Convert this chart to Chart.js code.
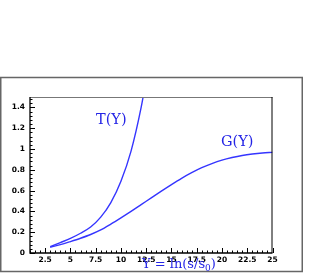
<!DOCTYPE html>
<html>
<head>
<meta charset="utf-8">
<script src="https://cdn.jsdelivr.net/npm/chart.js@4/dist/chart.umd.min.js"></script>
<style>
html, body { margin: 0; padding: 0; background: #fff; overflow: hidden; }
canvas { display: block; }
</style>
</head>
<body>
<canvas id="grafico" width="327" height="273"></canvas>
<script>
// Valores
const yT = [3, 4, 5, 6, 7, 8, 9, 10, 11, 12, 12.5];
const valoresT = [0.06, 0.10, 0.14, 0.19, 0.25, 0.345, 0.485, 0.69, 0.98, 1.40, 1.67];

const yG = [3, 4, 5, 6, 7, 8, 9, 10, 11, 12, 13, 14, 15, 16, 17, 18, 19, 20, 21, 22, 23, 24, 25];
const valoresG = [0.055, 0.08, 0.11, 0.142, 0.178, 0.222, 0.278, 0.338, 0.40, 0.465, 0.53, 0.595, 0.658, 0.718, 0.772, 0.82, 0.86, 0.893, 0.918, 0.938, 0.952, 0.962, 0.968];

const xTicks = [2.5, 5, 7.5, 10, 12.5, 15, 17.5, 20, 22.5, 25];
const xTickLabels = ['2.5', '5', '7.5', '10', '12.5', '15', '17.5', '20', '22.5', '25'];
const yTicks = [0, 0.2, 0.4, 0.6, 0.8, 1, 1.2, 1.4];
const yTickLabels = ['0', '0.2', '0.4', '0.6', '0.8', '1', '1.2', '1.4'];

const corCurva = '#3535ff';
const corTexto = '#2424e6';

function pontos(xs, ys) {
    return xs.map((x, i) => ({ x: x, y: ys[i] }));
}

// Eixos estilo ROOT: marcas para dentro, moldura externa
const eixosRoot = {
    id: 'eixosRoot',
    beforeDraw(chart) {
        const ctx = chart.ctx;
        ctx.save();
        ctx.fillStyle = '#fff';
        ctx.fillRect(0, 0, chart.width, chart.height);
        ctx.restore();
    },
    afterDraw(chart) {
        const ctx = chart.ctx;
        const a = chart.chartArea;
        const sx = chart.scales.x;
        const sy = chart.scales.y;
        ctx.save();

        // moldura externa
        ctx.strokeStyle = '#666';
        ctx.lineWidth = 1.5;
        ctx.strokeRect(0.75, 77.5, 301.5, 194);

        // moldura do gráfico
        ctx.lineWidth = 1;
        ctx.strokeStyle = '#777';
        ctx.beginPath();
        ctx.moveTo(a.left, a.top + 0.5);
        ctx.lineTo(a.right, a.top + 0.5);
        ctx.stroke();
        ctx.strokeStyle = '#000';
        ctx.beginPath();
        ctx.moveTo(a.right - 0.5, a.top);
        ctx.lineTo(a.right - 0.5, a.bottom);
        ctx.stroke();
        ctx.lineWidth = 1.3;
        ctx.beginPath();
        ctx.moveTo(a.left, a.top);
        ctx.lineTo(a.left, a.bottom);
        ctx.lineTo(a.right, a.bottom);
        ctx.stroke();

        // marcas menores e maiores
        ctx.lineWidth = 1;
        ctx.beginPath();
        for (let v = 1; v <= 25.001; v += 0.5) {
            const px = Math.round(sx.getPixelForValue(v)) + 0.5;
            const maior = xTicks.some(t => Math.abs(t - v) < 1e-6);
            ctx.moveTo(px, a.bottom);
            ctx.lineTo(px, a.bottom - (maior ? 5 : 2.5));
        }
        for (let v = 0; v <= 1.5; v += 0.04) {
            const py = Math.round(sy.getPixelForValue(v)) + 0.5;
            const maior = yTicks.some(t => Math.abs(t - v) < 1e-6);
            ctx.moveTo(a.left, py);
            ctx.lineTo(a.left + (maior ? 5 : 2.5), py);
        }
        ctx.stroke();

        // rótulos dos eixos
        ctx.fillStyle = '#000';
        ctx.font = 'bold 7.5px "DejaVu Sans"';
        ctx.textAlign = 'center';
        ctx.textBaseline = 'top';
        xTicks.forEach((t, i) => {
            ctx.fillText(xTickLabels[i], sx.getPixelForValue(t), a.bottom + 3);
        });
        ctx.textAlign = 'right';
        ctx.textBaseline = 'middle';
        yTicks.forEach((t, i) => {
            ctx.fillText(yTickLabels[i], a.left - 5, sy.getPixelForValue(t));
        });

        // nomes das curvas
        ctx.fillStyle = corTexto;
        ctx.font = '14.5px "DejaVu Serif"';
        ctx.textAlign = 'left';
        ctx.textBaseline = 'alphabetic';
        ctx.fillText('T(Y)', 96, 124);
        ctx.fillText('G(Y)', 221, 146);

        // título do eixo x com subscrito
        ctx.font = '13px "DejaVu Serif"';
        let x0 = 142;
        const base = 268;
        const t1 = 'Y = ln(s/s';
        ctx.fillText(t1, x0, base);
        x0 += ctx.measureText(t1).width;
        ctx.font = '9px "DejaVu Serif"';
        ctx.fillText('0', x0, base + 3);
        x0 += ctx.measureText('0').width;
        ctx.font = '13px "DejaVu Serif"';
        ctx.fillText(')', x0, base);

        ctx.restore();
    }
};

const chart = new Chart(document.getElementById('grafico'), {
    type: 'scatter',
    data: {
        datasets: [
            {
                label: 'T(Y)',
                data: pontos(yT, valoresT),
                showLine: true,
                borderColor: corCurva,
                borderWidth: 1.4,
                pointRadius: 0,
                cubicInterpolationMode: 'monotone'
            },
            {
                label: 'G(Y)',
                data: pontos(yG, valoresG),
                showLine: true,
                borderColor: corCurva,
                borderWidth: 1.4,
                pointRadius: 0,
                cubicInterpolationMode: 'monotone'
            }
        ]
    },
    options: {
        responsive: false,
        animation: false,
        layout: {
            padding: { left: 30, top: 97, right: 54.5, bottom: 20 }
        },
        scales: {
            x: { type: 'linear', min: 1, max: 25, display: false },
            y: { type: 'linear', min: 0, max: 1.5, display: false }
        },
        plugins: {
            legend: { display: false },
            tooltip: { enabled: false }
        }
    },
    plugins: [eixosRoot]
});
</script>
</body>
</html>
